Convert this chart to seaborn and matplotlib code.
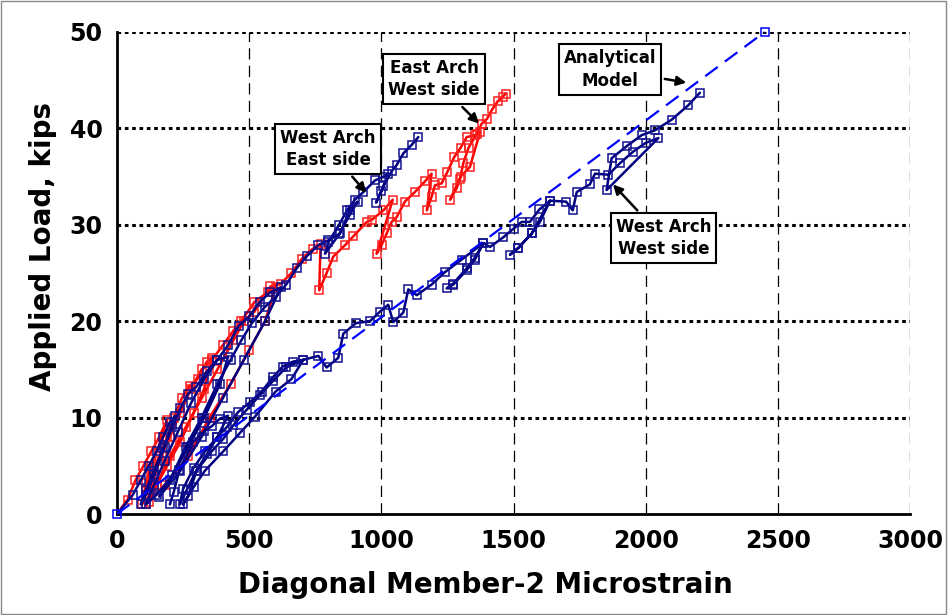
import numpy as np
import pandas as pd
import matplotlib
matplotlib.use("Agg")
import matplotlib.pyplot as plt
import seaborn as sns

# East Arch, West side (red)
east_west_x = [0, 40, 70, 100, 130, 160, 190,
               160, 130, 110, 95,
               110, 130, 160, 190, 215, 245, 275, 305, 340, 360,
               330, 290, 240, 190, 140, 110,
               130, 160, 200, 240, 280, 320, 360, 400, 440, 470, 520, 570, 600,
               560, 500, 430, 350, 270, 180, 120,
               150, 200, 260, 320, 380, 440, 480, 520, 580, 620, 660, 700, 740, 770,
               765, 793, 818, 863, 894, 945, 963, 1008, 1043,
               982, 1001, 1020, 1039, 1058, 1089, 1127, 1165, 1190,
               1172, 1190, 1203, 1228, 1250, 1275, 1300, 1323, 1354, 1373,
               1335, 1300, 1260, 1285, 1298, 1310, 1330, 1360, 1380, 1400,
               1420, 1440, 1460, 1470]
east_west_y = [0, 1.5, 3.5, 5.0, 6.5, 8.0, 9.8,
               7.2, 5.0, 3.2, 1.0,
               2.5, 4.0, 6.0, 8.0, 10.0, 12.0, 13.3, 14.0, 15.8, 16.2,
               13.0, 10.5, 7.5, 5.0, 2.5, 1.0,
               2.8, 5.5, 8.0, 10.5, 13.0, 15.0, 16.0, 17.5, 19.0, 20.0, 22.0, 23.0, 23.5,
               20.0, 17.0, 13.5, 10.0, 6.0, 3.0, 1.2,
               3.0, 6.0, 9.0, 12.0, 15.0, 18.0, 20.0, 21.0, 23.6, 23.9, 25.0, 26.5, 27.5, 28.0,
               23.2, 25.0, 26.7, 27.9, 28.8, 30.3, 30.5, 31.5, 32.6,
               27.0, 27.9, 29.1, 30.3, 30.8, 32.4, 33.4, 34.5, 35.3,
               31.5, 32.9, 34.1, 34.3, 35.5, 37.0, 38.0, 39.1, 39.3, 39.6,
               36.0, 35.0, 32.6, 33.8, 34.8, 36.4, 38.0, 39.4, 40.5, 41.0,
               42.0, 42.8, 43.3, 43.6]

# West Arch, East side (navy, left group)
west_east_x = [0, 60, 90, 120, 150, 175, 200, 220,
               180, 140, 110, 90,
               110, 140, 175, 210, 240, 270, 300, 340, 380, 420,
               390, 330, 270, 210, 150, 110,
               140, 180, 230, 280, 330, 380, 420, 460, 500, 540, 580, 620,
               560, 480, 400, 320, 240, 160,
               200, 260, 320, 380, 430, 470, 510, 560, 600, 640, 680, 720, 762, 800,
               844, 880, 910,
               880, 840, 787,
               800, 840, 870, 900, 932, 976, 1008, 1026,
               1000, 980,
               1008, 1040, 1058, 1083, 1115, 1140]
west_east_y = [0, 2.0, 3.5, 5.0, 6.5, 8.0, 9.5, 10.2,
               7.0, 4.0, 2.0, 1.0,
               2.5, 4.5, 6.8, 9.0, 11.0, 12.5, 13.2, 14.8, 16.0, 16.3,
               13.5, 10.0, 7.0, 4.0, 2.0, 1.0,
               3.0, 5.5, 8.5, 11.5, 14.0, 16.0, 17.5, 19.5, 20.5, 22.0, 23.0, 23.5,
               20.0, 16.0, 12.0, 8.0, 4.5, 1.8,
               3.5, 7.0, 10.0, 13.5, 16.0, 18.0, 19.8, 21.5, 22.5, 23.8, 25.5, 26.8, 27.9, 28.4,
               29.1, 31.5, 32.4,
               31.0, 29.0, 27.0,
               28.2, 30.0, 31.5, 32.6, 33.4, 34.6, 35.0, 35.3,
               33.5, 32.3,
               34.0, 35.6, 36.2, 37.4, 38.3, 39.1]

# West Arch, West side (navy, right group)
west_west_x = [200, 215, 236, 289, 330, 358, 390, 420,
               380, 340, 300, 264, 238,
               250, 290, 333, 380, 415, 459, 503, 547, 590, 627, 665, 705,
               660, 600, 522, 465, 402, 333, 290, 250,
               270, 301, 358, 402, 440, 490, 540, 590, 640, 705, 762,
               793, 837, 856, 904, 957, 995, 1026,
               1045, 1083, 1102, 1134, 1190, 1241, 1304, 1386,
               1354, 1323, 1272, 1247, 1272, 1323, 1354, 1386, 1411, 1461,
               1500, 1531, 1562, 1598, 1638,
               1569, 1518, 1487, 1518, 1569, 1600, 1638, 1699, 1724, 1739, 1789, 1808, 1859,
               1903, 1953, 2000, 2048,
               1852, 1871, 1930, 1985, 2035, 2098, 2161, 2205]
west_west_y = [1.0, 2.3, 4.6, 7.5, 8.6, 9.1, 9.9, 10.2,
               8.0, 6.2, 4.5, 2.5, 1.0,
               2.6, 4.8, 6.5, 8.0, 9.0, 10.6, 11.6, 12.7, 14.2, 15.3, 15.8, 16.0,
               14.0, 12.7, 10.1, 8.4, 6.5, 4.5, 2.8, 1.0,
               1.9, 4.5, 6.5, 7.8, 9.2, 10.8, 12.3, 13.8, 15.2, 16.0, 16.4,
               15.2, 16.2, 18.7, 19.8, 20.0, 21.0, 21.7,
               19.9, 20.9, 23.3, 22.7, 23.8, 25.1, 26.4, 28.1,
               26.4, 25.3, 23.8, 23.4, 23.9, 25.5, 26.6, 28.1, 27.7, 28.7,
               29.6, 30.3, 30.3, 31.6, 32.5,
               29.1, 27.6, 26.9, 27.6, 29.1, 30.3, 32.5, 32.4, 31.5, 33.4, 34.2, 35.3, 35.2,
               36.4, 37.6, 38.5, 39.0,
               33.6, 36.9, 38.2, 39.3, 39.8, 40.9, 42.4, 43.7]

# Analytical model
model_x = [0, 2450]
model_y = [0, 50]

sns.set_style("white")
plt.rcParams['font.family'] = ['DejaVu Sans']
plt.rcParams['font.weight'] = 'bold'
plt.rcParams['text.color'] = 'black'
plt.rcParams['axes.labelcolor'] = 'black'
plt.rcParams['xtick.color'] = 'black'
plt.rcParams['ytick.color'] = 'black'

fig = plt.figure(figsize=(9.48, 6.15), dpi=100)
ax = fig.add_axes([0.1234, 0.1642, 0.8366, 0.7838])

# grid
for yv in [10, 20, 30, 40, 50]:
    ax.axhline(yv, color='black', lw=2.2, ls=(0, (1.2, 1.2)), zorder=1)
for xv in [500, 1000, 1500, 2000, 2500, 3000]:
    ax.axvline(xv, color='black', lw=0.9, ls=(0, (9, 5)), zorder=1)

mk = dict(marker='s', markersize=6, markerfacecolor='none', markeredgewidth=1.1)
sns.lineplot(x=east_west_x, y=east_west_y, sort=False, estimator=None, ax=ax,
             color='#FF0000', lw=1.8, markeredgecolor='#FF2020', zorder=3, **mk)
sns.lineplot(x=west_east_x, y=west_east_y, sort=False, estimator=None, ax=ax,
             color='#000080', lw=1.8, markeredgecolor='#101090', zorder=4, **mk)
sns.lineplot(x=west_west_x, y=west_west_y, sort=False, estimator=None, ax=ax,
             color='#000080', lw=1.8, markeredgecolor='#101090', zorder=4, **mk)
sns.lineplot(x=model_x, y=model_y, sort=False, estimator=None, ax=ax,
             color='#0000FF', lw=1.6, ls=(0, (7, 4)), markeredgecolor='#0000FF',
             zorder=5, **mk)
ax.lines[-1].set_clip_on(False)

ax.set_xlim(0, 3000)
ax.set_ylim(0, 50)
ax.set_xticks(range(0, 3001, 500))
ax.set_yticks(range(0, 51, 10))
ax.tick_params(axis='both', labelsize=17, direction='inout', length=9, width=2, pad=6)
for lab in ax.get_xticklabels() + ax.get_yticklabels():
    lab.set_fontweight('bold')
ax.set_xlabel('Diagonal Member-2 Microstrain', fontsize=20, fontweight='bold')
ax.set_ylabel('Applied Load, kips', fontsize=20, fontweight='bold')
ax.xaxis.set_label_coords(0.464, -0.118)
ax.yaxis.set_label_coords(-0.076, 0.554)
for s in ['top', 'right']:
    ax.spines[s].set_visible(False)
for s in ['left', 'bottom']:
    ax.spines[s].set_linewidth(2)
    ax.spines[s].set_color('black')

box = dict(boxstyle='square,pad=0.3', fc='white', ec='black', lw=1.5)
arr = dict(arrowstyle='-|>', color='black', lw=1.8, mutation_scale=14)
notes = [("West Arch\nEast side", (798, 37.9), (950, 33.1)),
         ("East Arch\nWest side", (1200, 45.1), (1377, 40.3)),
         ("Analytical\nModel", (1865, 46.1), (2164, 44.7)),
         ("West Arch\nWest side", (2067, 28.6), (1869, 34.4))]
for txt, xy_text, xy_tip in notes:
    ax.annotate(txt, xy=xy_tip, xytext=xy_text, ha='center', va='center',
                fontsize=12, fontweight='bold', bbox=box, arrowprops=arr,
                linespacing=1.3, zorder=6)

fig.patches.append(plt.Rectangle((0.001, 0.002), 0.997, 0.996, transform=fig.transFigure,
                                 fill=False, ec='#888888', lw=1))
fig.savefig('out.png', dpi=100)
